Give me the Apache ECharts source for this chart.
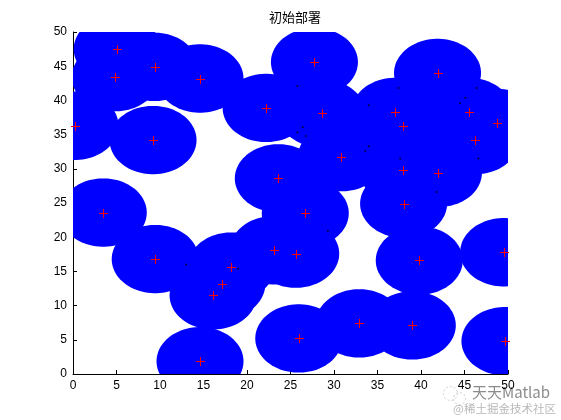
<!DOCTYPE html>
<html><head><meta charset="utf-8">
<script src="https://cdn.jsdelivr.net/npm/echarts@6/dist/echarts.min.js"></script>
<style>html,body{margin:0;padding:0;background:#fff}#c{width:561px;height:420px}</style>
</head><body><div id="c"></div>
<script>
// sensor positions (x, y)
var sensorX = [5.08, 9.37, 4.85, 14.6, 22.2, 0.23, 9.2, 23.6, 27.75, 28.6, 30.85, 41.9, 37.0, 37.95, 45.5, 48.7, 46.25, 37.9, 42.0, 38.0, 3.48, 9.45, 18.2, 17.1, 16.1, 14.6, 23.05, 26.7, 25.6, 39.8, 49.5, 32.9, 39.0, 25.95, 49.65];
var sensorY = [47.5, 44.9, 43.4, 43.2, 38.9, 36.3, 34.2, 28.6, 45.6, 38.1, 31.7, 44.0, 38.3, 36.2, 38.3, 36.7, 34.2, 29.8, 29.4, 24.9, 23.6, 16.8, 15.7, 13.1, 11.5, 1.86, 18.1, 23.5, 17.6, 16.6, 17.8, 7.4, 7.1, 5.2, 4.8];
var sensingRadius = 5;
// small black points
var dotX = [25.8, 37.4, 34.0, 26.4, 25.8, 26.75, 34.0, 33.6, 37.6, 46.4, 45.1, 44.5, 46.6, 41.8, 13.0, 19.0, 29.3];
var dotY = [42.1, 41.8, 39.3, 36.1, 35.3, 34.8, 33.3, 32.6, 31.5, 41.8, 40.4, 39.6, 31.5, 26.6, 16.0, 15.4, 20.9];
var xTicks = [0, 5, 10, 15, 20, 25, 30, 35, 40, 45, 50];
var yTicks = [0, 5, 10, 15, 20, 25, 30, 35, 40, 45, 50];
var titleText = '初始部署';

var sensors = sensorX.map(function (x, i) { return [x, sensorY[i]]; });
var dots = dotX.map(function (x, i) { return [x, dotY[i]]; });

var chart = echarts.init(document.getElementById('c'), null, {renderer: 'canvas'});
function axisOpt(ticks) {
  return {
    type: 'value',
    min: ticks[0], max: ticks[ticks.length - 1], interval: ticks[1] - ticks[0],
    axisLine: {show: true, onZero: false, lineStyle: {color: '#000', width: 1}},
    axisTick: {show: true, inside: true, length: 4, lineStyle: {color: '#000'}},
    axisLabel: {color: '#000', fontFamily: 'Liberation Sans, Arial, sans-serif', fontSize: 12, margin: 6},
    splitLine: {show: false}
  };
}
chart.setOption({
  animation: false,
  backgroundColor: '#fff',
  title: {text: titleText, left: 290, top: 6, textAlign: 'center',
    textStyle: {fontSize: 13, fontWeight: 'normal', color: '#000', fontFamily: 'Noto Sans CJK SC'}},
  grid: {left: 73, right: 53, top: 32, bottom: 46},
  xAxis: axisOpt(xTicks),
  yAxis: axisOpt(yTicks),
  graphic: [
    {type: 'circle', left: 441, top: 384, shape: {r: 7}, style: {fill: 'none', stroke: '#cfcfcf', lineWidth: 1, lineDash: [2, 2]}},
    {type: 'circle', left: 451, top: 390, shape: {r: 6}, style: {fill: 'none', stroke: '#cfcfcf', lineWidth: 1, lineDash: [2, 2]}},
    {type: 'text', left: 472, top: 385, style: {text: '天天Matlab', fill: '#8c8c8c', font: '15px "Noto Sans CJK SC"'}},
    {type: 'text', left: 453, top: 403, style: {text: '@稀土掘金技术社区', fill: '#b8b8b8', font: '11.5px "Noto Sans CJK SC"'}}
  ],
  series: [
    {
      type: 'custom', clip: true, data: sensors,
      renderItem: function (params, api) {
        var cx = api.value(0), cy = api.value(1);
        var pts = [];
        for (var k = 0; k < 90; k++) {
          var a = k / 90 * Math.PI * 2;
          pts.push(api.coord([cx + sensingRadius * Math.cos(a), cy + sensingRadius * Math.sin(a)]));
        }
        var cs = params.coordSys;
        return {type: 'polygon', shape: {points: pts}, style: {fill: '#0000ff'},
          clipPath: {type: 'rect', shape: {x: cs.x, y: cs.y, width: cs.width, height: cs.height}}};
      }
    },
    {
      type: 'custom', data: sensors, z: 5,
      renderItem: function (params, api) {
        var p = api.coord([api.value(0), api.value(1)]);
        var h = 4.5;
        var x = Math.round(p[0]) + 0.5, y = Math.round(p[1]) + 0.5;
        return {type: 'group', children: [
          {type: 'line', shape: {x1: x - h, y1: y, x2: x + h, y2: y}, style: {stroke: '#ff0000', lineWidth: 1}},
          {type: 'line', shape: {x1: x, y1: y - h, x2: x, y2: y + h}, style: {stroke: '#ff0000', lineWidth: 1}}
        ]};
      }
    },
    {
      type: 'scatter', data: dots, symbolSize: 2, z: 6,
      itemStyle: {color: '#000'}
    }
  ]
});
</script></body></html>
